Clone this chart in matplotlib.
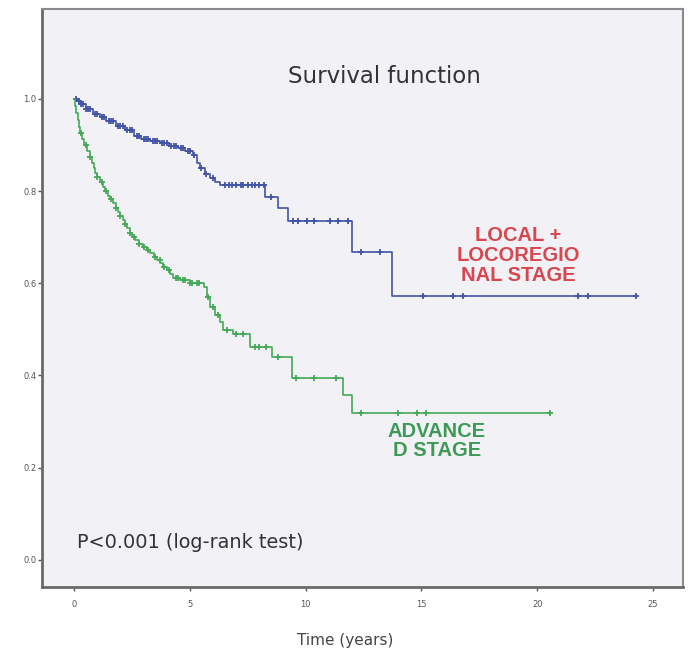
import matplotlib
matplotlib.use("Agg")
import matplotlib.pyplot as plt
import numpy as np

# Kaplan-Meier steps
localTimes = [0, 0.15, 0.3, 0.5, 0.8, 1.1, 1.4, 1.8, 2.2, 2.6, 2.9, 3.3, 3.7, 4.1, 4.5, 4.8,
              5.15, 5.3, 5.45, 5.65, 5.88, 6.1, 6.3, 8.26, 8.8, 9.25, 12.0, 13.75, 24.27]
localSurv = [1.0, 0.995, 0.988, 0.978, 0.968, 0.96, 0.952, 0.942, 0.932, 0.92, 0.912, 0.908, 0.905,
             0.898, 0.893, 0.887, 0.878, 0.862, 0.85, 0.838, 0.828, 0.82, 0.813, 0.787, 0.763,
             0.735, 0.668, 0.573, 0.573]
localCensor = [0.1, 0.2, 0.3, 0.4, 0.5, 0.6, 0.7, 0.9, 1.0, 1.2, 1.3, 1.5, 1.6, 1.7, 1.9, 2.0,
               2.1, 2.3, 2.4, 2.5, 2.7, 2.8, 3.0, 3.1, 3.2, 3.4, 3.5, 3.6, 3.8, 3.9, 4.0, 4.2,
               4.3, 4.4, 4.6, 4.7, 4.9, 5.0, 5.2, 5.5, 5.7, 6.0, 6.5, 6.7, 6.8, 7.0, 7.2, 7.3,
               7.5, 7.7, 7.8, 8.0, 8.2, 8.5, 9.47, 9.69, 10.08, 10.34, 11.07, 11.38, 11.85,
               12.37, 13.19, 15.05, 16.35, 16.78, 21.76, 22.2, 24.27]

advTimes = [0, 0.03, 0.08, 0.15, 0.2, 0.26, 0.35, 0.45, 0.57, 0.69, 0.77, 0.85, 0.92, 0.99, 1.1,
            1.25, 1.35, 1.45, 1.57, 1.69, 1.8, 1.9, 2.0, 2.12, 2.2, 2.3, 2.4, 2.5, 2.65, 2.8,
            2.98, 3.16, 3.3, 3.45, 3.6, 3.72, 3.85, 4.0, 4.15, 4.28, 4.58, 5.0, 5.6, 5.75, 5.88,
            6.1, 6.3, 6.45, 6.88, 7.6, 8.56, 9.43, 11.63, 12.0, 20.54]
advSurv = [1.0, 0.985, 0.97, 0.955, 0.94, 0.926, 0.912, 0.9, 0.887, 0.874, 0.862, 0.85, 0.84,
           0.831, 0.82, 0.809, 0.8, 0.79, 0.782, 0.774, 0.764, 0.755, 0.747, 0.738, 0.729, 0.72,
           0.71, 0.701, 0.693, 0.686, 0.679, 0.672, 0.665, 0.658, 0.651, 0.644, 0.636, 0.628,
           0.62, 0.612, 0.607, 0.601, 0.592, 0.571, 0.549, 0.531, 0.515, 0.499, 0.49, 0.462,
           0.44, 0.395, 0.358, 0.319, 0.319]
advCensor = [0.3, 0.5, 0.7, 1.0, 1.2, 1.4, 1.6, 1.8, 2.0, 2.2, 2.4, 2.6, 2.8, 3.0, 3.2, 3.5,
             3.7, 3.9, 4.1, 4.4, 4.5, 4.7, 4.8, 5.0, 5.1, 5.3, 5.4, 5.8, 6.0, 6.2, 6.6, 7.0,
             7.3, 7.8, 8.0, 8.3, 8.8, 9.6, 10.35, 11.3, 12.37, 14.0, 14.8, 15.2, 20.54]

xticks = [0, 5, 10, 15, 20, 25]
yticks = [0.0, 0.2, 0.4, 0.6, 0.8, 1.0]

blue = "#4353a6"
green = "#45a858"


def survAt(times, surv, t):
    idx = np.searchsorted(times, t, side="right") - 1
    return np.array(surv)[idx]


fig = plt.figure(figsize=(6.9, 6.54), dpi=100)
ax = fig.add_axes([0.061, 0.1024, 0.929, 0.8838])
ax.set_facecolor("#f1f1f6")

ax.step(localTimes, localSurv, where="post", color=blue, lw=1.2)
ax.plot(localCensor, survAt(localTimes, localSurv, localCensor), ls="none",
        marker="+", ms=4, mew=1.3, color=blue)
ax.step(advTimes, advSurv, where="post", color=green, lw=1.2)
ax.plot(advCensor, survAt(advTimes, advSurv, advCensor), ls="none",
        marker="+", ms=4, mew=1.3, color=green)

ax.set_xlim(-1.38, 26.3)
ax.set_ylim(-0.059, 1.195)
ax.set_xticks(xticks)
ax.set_xticklabels([str(v) for v in xticks])
ax.set_yticks(yticks)
ax.set_yticklabels(["%.1f" % v for v in yticks])
ax.tick_params(axis="both", labelsize=6, colors="#555555", length=3, width=1)
ax.tick_params(axis="x", pad=6)
ax.tick_params(axis="y", pad=1)
for side in ["left", "bottom"]:
    ax.spines[side].set_color("#6a6a6a")
    ax.spines[side].set_linewidth(2)
for side in ["top", "right"]:
    ax.spines[side].set_color("#8a8a8a")
    ax.spines[side].set_linewidth(1.5)

ax.text(13.39, 1.048, "Survival function", ha="center", va="center", fontsize=16.5, color="#333333")
ax.text(0.13, 0.037, "P<0.001 (log-rank test)", ha="left", va="center", fontsize=13.9, color="#333333")
ax.text(19.2, 0.66, "LOCAL +\nLOCOREGIO\nNAL STAGE", ha="center", va="center", fontsize=14.5,
        fontweight="bold", family="Liberation Sans", color="#d8474f", linespacing=1.05)
ax.text(15.66, 0.258, "ADVANCE\nD STAGE", ha="center", va="center", fontsize=14.5,
        fontweight="bold", family="Liberation Sans", color="#3d9a55", linespacing=1.05)
fig.text(0.5, 0.0214, "Time (years)", ha="center", va="center", fontsize=11, color="#444444")

fig.savefig("out.png", dpi=100)
